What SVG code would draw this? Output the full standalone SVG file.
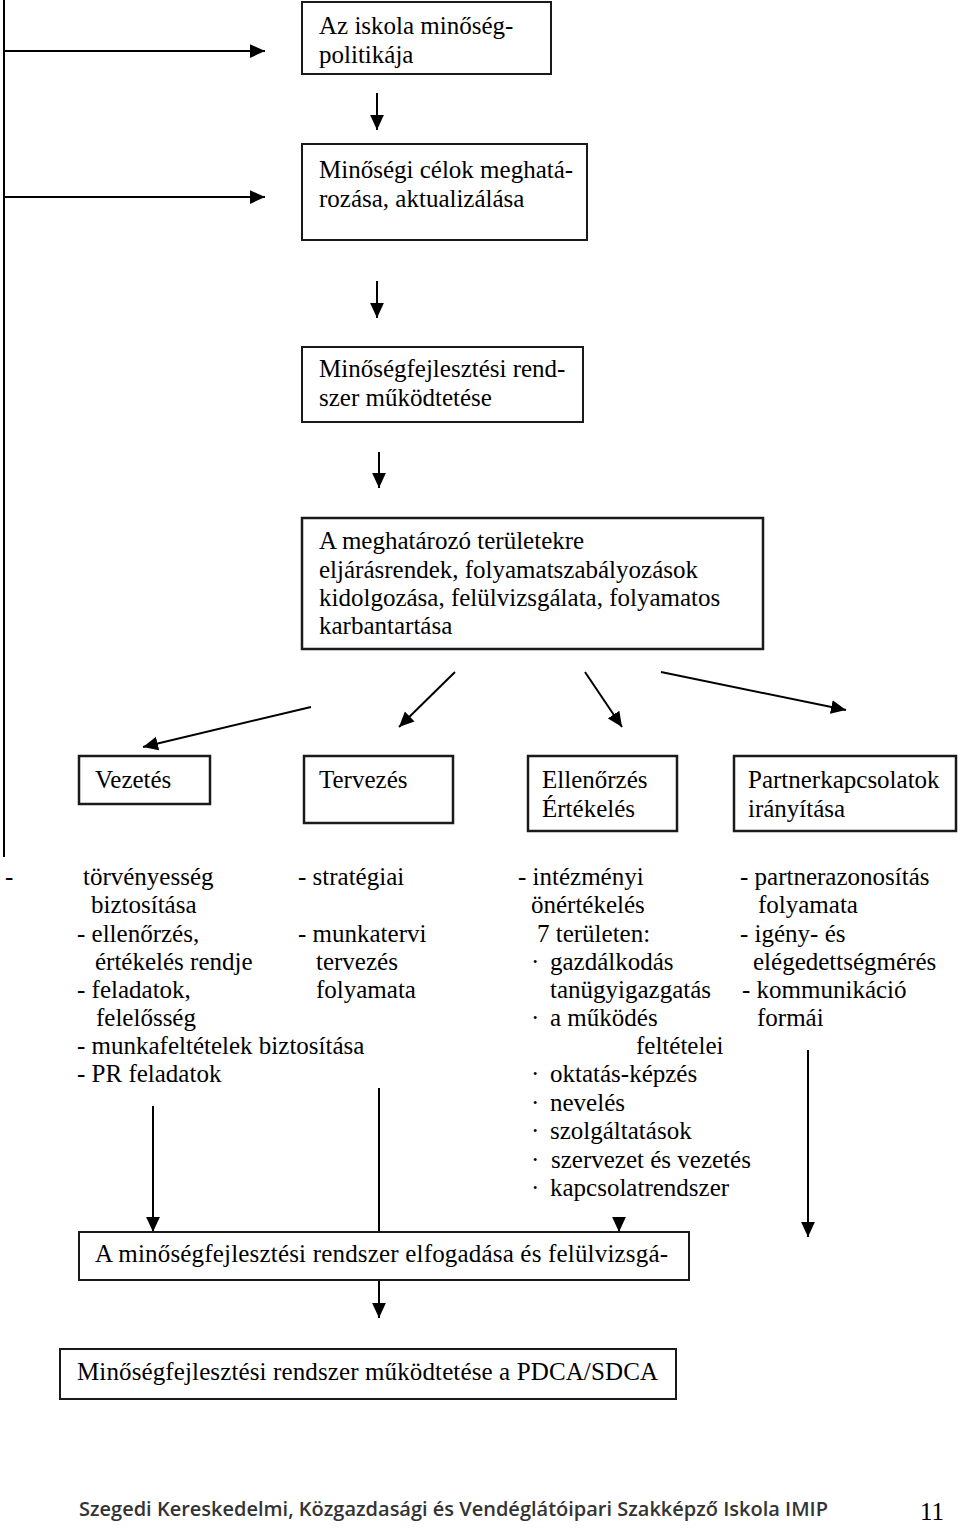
<svg xmlns="http://www.w3.org/2000/svg" width="960" height="1530" viewBox="0 0 960 1530">
<defs>
<marker id="ah" markerUnits="userSpaceOnUse" markerWidth="15" markerHeight="15" viewBox="0 0 12 12" refX="12" refY="6" orient="auto">
<path d="M0,0.5 L12,6 L0,11.5 Z" fill="#000"/>
</marker>
<style>
.box{fill:#fff;stroke:#1a1a1a;stroke-width:2}
.box2{fill:#fff;stroke:#1a1a1a;stroke-width:2.5}
.t{font-family:"Liberation Serif","Times New Roman",serif;font-size:25px;fill:#000}
.c{stroke:#000;stroke-width:2;fill:none}
.a{stroke:#000;stroke-width:2;fill:none;marker-end:url(#ah)}
.f{font-family:"Open Sans","DejaVu Sans",sans-serif;font-weight:600;font-size:19px;fill:#333}
</style>
</defs>
<rect width="960" height="1530" fill="#fff"/>

<g id="connectors">
<line class="c" x1="4" y1="0" x2="4" y2="857"/>
<line class="a" x1="4" y1="51" x2="265" y2="51"/>
<line class="a" x1="4" y1="197" x2="265" y2="197"/>
<line class="a" x1="377" y1="93" x2="377" y2="130"/>
<line class="a" x1="377" y1="281" x2="377" y2="318"/>
<line class="a" x1="379" y1="452" x2="379" y2="488"/>
<line class="a" x1="311" y1="707" x2="143" y2="747"/>
<line class="a" x1="455" y1="672" x2="399" y2="727"/>
<line class="a" x1="585" y1="672" x2="622" y2="727"/>
<line class="a" x1="661" y1="672" x2="846" y2="710"/>
<line class="a" x1="153" y1="1106" x2="153" y2="1232"/>
<line class="c" x1="379" y1="1088" x2="379" y2="1232"/>
<line class="a" x1="619" y1="1218" x2="619" y2="1232"/>
<line class="a" x1="808" y1="1050" x2="808" y2="1237"/>
<line class="a" x1="379" y1="1280" x2="379" y2="1318"/>
</g>

<g id="n1">
<rect class="box" x="302" y="2" width="249" height="72"/>
<text class="t" x="319" y="34">Az iskola minőség-</text>
<text class="t" x="319" y="63">politikája</text>
</g>
<g id="n2">
<rect class="box" x="302" y="144" width="285" height="96"/>
<text class="t" x="319" y="178">Minőségi célok meghatá-</text>
<text class="t" x="319" y="207">rozása, aktualizálása</text>
</g>
<g id="n3">
<rect class="box" x="302" y="347" width="281" height="75"/>
<text class="t" x="319" y="377">Minőségfejlesztési rend-</text>
<text class="t" x="319" y="406">szer működtetése</text>
</g>
<g id="n4">
<rect class="box2" x="302" y="518" width="461" height="131"/>
<text class="t" x="319" y="549">A meghatározó területekre</text>
<text class="t" x="319" y="578">eljárásrendek, folyamatszabályozások</text>
<text class="t" x="319" y="606">kidolgozása, felülvizsgálata, folyamatos</text>
<text class="t" x="319" y="634">karbantartása</text>
</g>
<g id="n5">
<rect class="box2" x="79" y="756" width="131" height="48"/>
<text class="t" x="95" y="788">Vezetés</text>
</g>
<g id="n6">
<rect class="box2" x="304" y="756" width="149" height="67"/>
<text class="t" x="319" y="788">Tervezés</text>
</g>
<g id="n7">
<rect class="box2" x="528" y="756" width="149" height="75"/>
<text class="t" x="542" y="788">Ellenőrzés</text>
<text class="t" x="542" y="817">Értékelés</text>
</g>
<g id="n8">
<rect class="box2" x="734" y="756" width="222" height="75"/>
<text class="t" x="748" y="788">Partnerkapcsolatok</text>
<text class="t" x="748" y="817">irányítása</text>
</g>

<g id="col1">
<text class="t" x="5" y="885">-</text>
<text class="t" x="83" y="885">törvényesség</text>
<text class="t" x="91" y="913">biztosítása</text>
<text class="t" x="77" y="942">- ellenőrzés,</text>
<text class="t" x="95" y="970">értékelés rendje</text>
<text class="t" x="77" y="998">- feladatok,</text>
<text class="t" x="96" y="1026">felelősség</text>
<text class="t" x="77" y="1054">- munkafeltételek biztosítása</text>
<text class="t" x="77" y="1082">- PR feladatok</text>
</g>
<g id="col2">
<text class="t" x="298" y="885">- stratégiai</text>
<text class="t" x="298" y="942">- munkatervi</text>
<text class="t" x="316" y="970">tervezés</text>
<text class="t" x="316" y="998">folyamata</text>
</g>
<g id="col3">
<text class="t" x="518" y="885">- intézményi</text>
<text class="t" x="531" y="913">önértékelés</text>
<text class="t" x="537" y="942">7 területen:</text>
<text class="t" x="531" y="970">·</text><text class="t" x="550" y="970">gazdálkodás</text>
<text class="t" x="550" y="998">tanügyigazgatás</text>
<text class="t" x="531" y="1026">·</text><text class="t" x="550" y="1026">a működés</text>
<text class="t" x="636" y="1054">feltételei</text>
<text class="t" x="531" y="1082">·</text><text class="t" x="550" y="1082">oktatás-képzés</text>
<text class="t" x="531" y="1111">·</text><text class="t" x="550" y="1111">nevelés</text>
<text class="t" x="531" y="1139">·</text><text class="t" x="550" y="1139">szolgáltatások</text>
<text class="t" x="531" y="1168">·</text><text class="t" x="551" y="1168">szervezet és vezetés</text>
<text class="t" x="531" y="1196">·</text><text class="t" x="550" y="1196">kapcsolatrendszer</text>
</g>
<g id="col4">
<text class="t" x="740" y="885">- partnerazonosítás</text>
<text class="t" x="758" y="913">folyamata</text>
<text class="t" x="740" y="942">- igény- és</text>
<text class="t" x="753" y="970">elégedettségmérés</text>
<text class="t" x="742" y="998">- kommunikáció</text>
<text class="t" x="757" y="1026">formái</text>
</g>

<g id="n9">
<rect class="box" x="79" y="1232" width="610" height="48"/>
<text class="t" x="95" y="1262" textLength="573" lengthAdjust="spacing">A minőségfejlesztési rendszer elfogadása és felülvizsgá-</text>
</g>
<g id="n10">
<rect class="box" x="60" y="1349" width="616" height="50"/>
<text class="t" x="77" y="1380" textLength="581" lengthAdjust="spacing">Minőségfejlesztési rendszer működtetése a PDCA/SDCA</text>
</g>

<g id="footer">
<text class="f" x="79" y="1516" textLength="749" lengthAdjust="spacingAndGlyphs">Szegedi Kereskedelmi, Közgazdasági és Vendéglátóipari Szakképző Iskola IMIP</text>
<text class="t" x="920" y="1520">11</text>
</g>
</svg>
